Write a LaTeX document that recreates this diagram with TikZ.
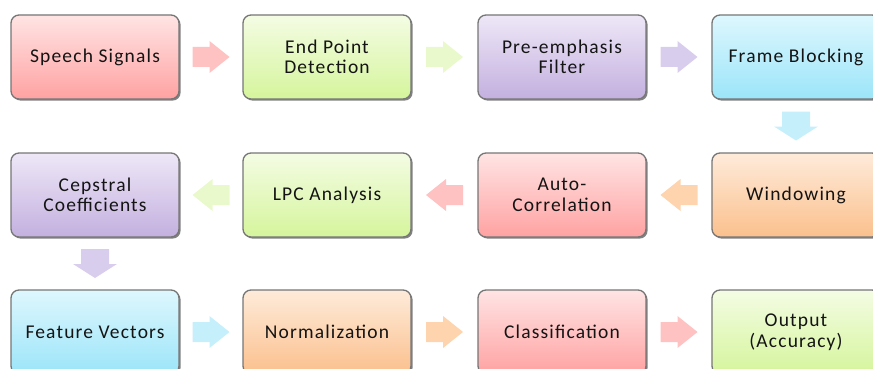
\documentclass[tikz,border=0pt]{standalone}
\usepackage{fontspec}
\setmainfont{Carlito}[LetterSpace=6]
\usetikzlibrary{calc,shadows}

% box gradients (top / bottom)
\definecolor{pinkT}{HTML}{FFE4E4}\definecolor{pinkB}{HTML}{FFA2A2}
\definecolor{greenT}{HTML}{F4FCE4}\definecolor{greenB}{HTML}{D5F59C}
\definecolor{purpT}{HTML}{EEE7F7}\definecolor{purpB}{HTML}{C3B0DF}
\definecolor{blueT}{HTML}{DEF7FE}\definecolor{blueB}{HTML}{9BE5F9}
\definecolor{orngT}{HTML}{FEEBDA}\definecolor{orngB}{HTML}{FBC08D}
% block arrow fills
\definecolor{pinkA}{HTML}{FFC2C2}
\definecolor{greenA}{HTML}{EAF9CC}
\definecolor{purpA}{HTML}{D9CDEE}
\definecolor{blueA}{HTML}{C6EFFC}
\definecolor{orngA}{HTML}{FDD4AE}
\definecolor{edge}{HTML}{767676}

\tikzset{
  stage/.style={draw=edge, line width=1.3pt, rounded corners=8pt,
    minimum width=168pt, minimum height=84pt, inner sep=0pt,
    align=center, text=black!92,
    font=\fontsize{19.5}{20.5}\selectfont,
    drop shadow={shadow xshift=1.6pt, shadow yshift=-1.6pt,
      fill=black!70, opacity=0.7}},
  pinkbox/.style={stage, top color=pinkT, bottom color=pinkB},
  greenbox/.style={stage, top color=greenT, bottom color=greenB},
  purpbox/.style={stage, top color=purpT, bottom color=purpB},
  bluebox/.style={stage, top color=blueT, bottom color=blueB},
  orngbox/.style={stage, top color=orngT, bottom color=orngB},
  % horizontal block arrow pointing right
  rarrow/.pic={\fill[pic actions] (-18.5,-10) -- (-1.5,-10) -- (-1.5,-16)
     -- (18.5,0) -- (-1.5,16) -- (-1.5,10) -- (-18.5,10) -- cycle;},
  % vertical block arrow pointing down
  darrow/.pic={\fill[pic actions] (-14,-14.5) -- (14,-14.5) -- (14,0.5)
     -- (22,0.5) -- (0,14.5) -- (-22,0.5) -- (-14,0.5) -- cycle;}
}

\begin{document}
\begin{tikzpicture}[x=1pt, y=-1pt]
\useasboundingbox (0,0) rectangle (873,369);
\clip (0,0) rectangle (873,369);

% first row, left to right
\node[pinkbox]  (speech) at (95,57)  {Speech Signals};
\node[greenbox] (endpt)  at (327,57) {End Point\\Detection};
\node[purpbox]  (preemp) at (562,57) {Pre-emphasis\\Filter};
\node[bluebox]  (frame)  at (796,57) {Frame Blocking};

% second row, right to left
\node[orngbox]  (window) at (796,195) {Windowing};
\node[pinkbox]  (autoc)  at (562,195) {Auto-\\Correlation};
\node[greenbox] (lpc)    at (327,195) {LPC Analysis};
\node[purpbox]  (ceps)   at (95,195)  {Cepstral\\Coefficients};

% third row, left to right
\node[bluebox]  (feat)   at (95,332)  {Feature Vectors};
\node[orngbox]  (norm)   at (327,332) {Normalization};
\node[pinkbox]  (class)  at (562,332) {Classification};
\node[greenbox] (out)    at (796,332) {Output\\(Accuracy)};

% connectors
\pic[fill=pinkA]  at ($(speech.east)!0.5!(endpt.west)$) {rarrow};
\pic[fill=greenA] at ($(endpt.east)!0.5!(preemp.west)$) {rarrow};
\pic[fill=purpA]  at ($(preemp.east)!0.5!(frame.west)$) {rarrow};
\pic[fill=blueA]  at ($(frame.south)!0.5!(window.north)$) {darrow};
\pic[fill=orngA, rotate=180] at ($(window.west)!0.5!(autoc.east)$) {rarrow};
\pic[fill=pinkA, rotate=180] at ($(autoc.west)!0.5!(lpc.east)$) {rarrow};
\pic[fill=greenA, rotate=180] at ($(lpc.west)!0.5!(ceps.east)$) {rarrow};
\pic[fill=purpA]  at ($(ceps.south)!0.5!(feat.north)$) {darrow};
\pic[fill=blueA]  at ($(feat.east)!0.5!(norm.west)$) {rarrow};
\pic[fill=orngA]  at ($(norm.east)!0.5!(class.west)$) {rarrow};
\pic[fill=pinkA]  at ($(class.east)!0.5!(out.west)$) {rarrow};
\end{tikzpicture}
\end{document}
